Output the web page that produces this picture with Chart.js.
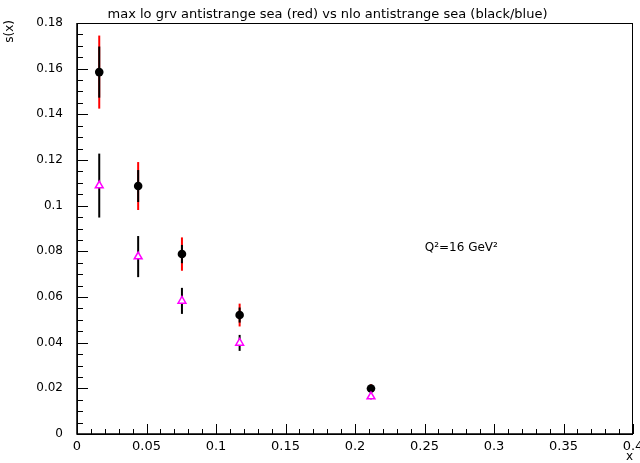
<!DOCTYPE html>
<html>
<head>
<meta charset="utf-8">
<script src="https://cdn.jsdelivr.net/npm/chart.js@4.4.0/dist/chart.umd.min.js"></script>
<style>
  html, body { margin: 0; padding: 0; background: #ffffff; }
  #wrap { width: 640px; height: 463px; }
</style>
</head>
<body>
<div id="wrap"><canvas id="c" width="640" height="463"></canvas></div>
<script>
// ---- data ----
const xValues        = [0.016, 0.044, 0.0755, 0.117, 0.2115];
const loValues       = [0.1585, 0.1086, 0.0788, 0.0521, 0.0199];   // black circles
const loRedErr       = [0.016, 0.0105, 0.0073, 0.0050, 0.0019];    // red error bars
const loBlackErr     = [0.0112, 0.0070, 0.0040, 0.0033, 0.0010];   // black inner bars
const nloValues      = [0.1088, 0.0777, 0.0583, 0.0399, 0.0164];   // magenta triangles
const nloErr         = [0.0140, 0.0090, 0.0057, 0.0035, 0.0012];   // black error bars
const titleText      = 'max lo grv antistrange sea (red) vs nlo antistrange sea (black/blue)';
const yTitle         = 's(x)';
const xTitle         = 'x';
const annotationText = 'Q\u00B2=16 GeV\u00B2';
const annotationPos  = { x: 0.2765, y: 0.0815 };

const FONT = '"DejaVu Sans", "Liberation Sans", sans-serif';

const loPoints  = xValues.map((x, i) => ({ x: x, y: loValues[i] }));
const nloPoints = xValues.map((x, i) => ({ x: x, y: nloValues[i] }));

function fmt(v) { return String(parseFloat(Number(v).toFixed(4))); }

const errorBarPlugin = {
  id: 'errorBars',
  beforeDatasetsDraw(chart) {
    const ctx = chart.ctx;
    const xs = chart.scales.x, ys = chart.scales.y;
    ctx.save();
    ctx.lineCap = 'butt';
    function bar(x, lo, hi, color, w) {
      const px = xs.getPixelForValue(x);
      ctx.strokeStyle = color;
      ctx.lineWidth = w;
      ctx.beginPath();
      ctx.moveTo(px, ys.getPixelForValue(lo));
      ctx.lineTo(px, ys.getPixelForValue(hi));
      ctx.stroke();
    }
    xValues.forEach((x, i) => {
      bar(x, loValues[i] - loRedErr[i], loValues[i] + loRedErr[i], '#ff0000', 2);
      bar(x, loValues[i] - loBlackErr[i], loValues[i] + loBlackErr[i], '#000000', 2);
      bar(x, nloValues[i] - nloErr[i], nloValues[i] + nloErr[i], '#000000', 2);
    });
    ctx.restore();
  }
};

const framePlugin = {
  id: 'frame',
  afterDraw(chart) {
    const ctx = chart.ctx;
    const a = chart.chartArea;
    const xs = chart.scales.x, ys = chart.scales.y;
    ctx.save();
    ctx.strokeStyle = '#000000';
    ctx.lineWidth = 1;
    ctx.strokeRect(a.left + 0.5, a.top + 0.5, a.right - a.left - 1, a.bottom - a.top);
    ctx.lineWidth = 1.5;
    ctx.beginPath();
    ctx.moveTo(a.left, a.top); ctx.lineTo(a.left, a.bottom); ctx.lineTo(a.right, a.bottom);
    ctx.stroke();
    ctx.lineWidth = 1;
    for (let k = 0; k <= 40; k++) {
      const v = k * 0.01;
      const px = Math.round(xs.getPixelForValue(v)) + 0.5;
      const len = (k % 5 === 0) ? 10 : 5;
      ctx.beginPath();
      ctx.moveTo(px, a.bottom);
      ctx.lineTo(px, a.bottom - len);
      ctx.stroke();
    }
    for (let k = 0; k <= 36; k++) {
      const v = k * 0.005;
      const py = Math.round(ys.getPixelForValue(v)) + 0.5;
      const len = (k % 4 === 0) ? 11 : 6;
      ctx.beginPath();
      ctx.moveTo(a.left, py);
      ctx.lineTo(a.left + len, py);
      ctx.stroke();
    }
    ctx.fillStyle = '#000000';
    ctx.font = '12px ' + FONT;
    ctx.textAlign = 'right';
    ctx.textBaseline = 'alphabetic';
    ctx.fillText(xTitle, a.right, 460);
    ctx.save();
    ctx.translate(10, a.top - 3);
    ctx.rotate(-Math.PI / 2);
    ctx.textAlign = 'right';
    ctx.textBaseline = 'middle';
    ctx.fillText(yTitle, 0, 0);
    ctx.restore();
    ctx.font = '12px ' + FONT;
    ctx.textAlign = 'center';
    ctx.textBaseline = 'middle';
    ctx.fillText(annotationText, xs.getPixelForValue(annotationPos.x), ys.getPixelForValue(annotationPos.y));
    ctx.restore();
  }
};

const whiteBg = {
  id: 'whiteBg',
  beforeDraw(chart) {
    const ctx = chart.ctx;
    ctx.save();
    ctx.fillStyle = '#ffffff';
    ctx.fillRect(0, 0, chart.width, chart.height);
    ctx.restore();
  }
};

new Chart(document.getElementById('c'), {
  type: 'scatter',
  data: {
    datasets: [
      {
        label: 'nlo',
        data: nloPoints,
        pointStyle: 'triangle',
        radius: 4.5,
        borderColor: '#ff00ff',
        backgroundColor: '#ffffff',
        borderWidth: 1.5
      },
      {
        label: 'lo',
        data: loPoints,
        pointStyle: 'circle',
        radius: 4.3,
        borderColor: '#000000',
        backgroundColor: '#000000',
        borderWidth: 0
      }
    ]
  },
  options: {
    responsive: false,
    animation: false,
    devicePixelRatio: 1,
    layout: { padding: { left: 22, right: 7, top: 0, bottom: 0 } },
    plugins: {
      legend: { display: false },
      tooltip: { enabled: false },
      title: {
        display: true,
        text: titleText,
        color: '#000000',
        font: { family: FONT, size: 13, weight: 'normal' },
        padding: { top: 6.5, bottom: 0.9 }
      }
    },
    scales: {
      x: {
        type: 'linear',
        min: 0, max: 0.4,
        grid: { display: false, drawTicks: false },
        border: { display: false },
        ticks: {
          stepSize: 0.05,
          color: '#000000',
          font: { family: FONT, size: 13 },
          padding: 5,
          maxRotation: 0,
          autoSkip: false,
          callback: (v) => fmt(v)
        },
        afterFit(scale) { scale.height = 29; scale.paddingLeft = 0; scale.paddingRight = 0; }
      },
      y: {
        type: 'linear',
        min: 0, max: 0.18,
        grid: { display: false, drawTicks: false },
        border: { display: false },
        ticks: {
          stepSize: 0.02,
          color: '#000000',
          font: { family: FONT, size: 12 },
          padding: 14,
          autoSkip: false,
          callback: (v) => fmt(v)
        },
        afterFit(scale) { scale.width = 55; scale.paddingTop = 0; scale.paddingBottom = 0; }
      }
    }
  },
  plugins: [whiteBg, errorBarPlugin, framePlugin]
});
</script>
</body>
</html>
